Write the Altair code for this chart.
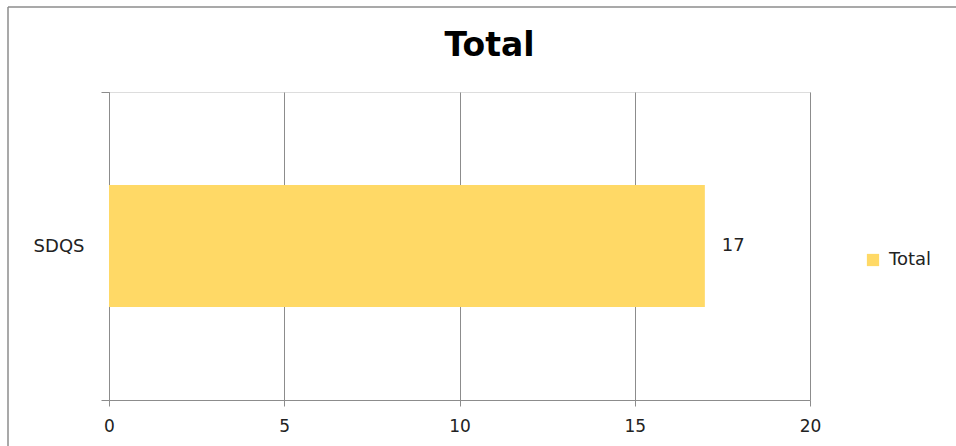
import altair as alt
import pandas as pd

categories = ["SDQS"]
values = [17]
series = ["Total"]

df = pd.DataFrame({"cat": categories, "value": values, "series": series[0]})

W, H = 701, 308
PL, PT = 109, 92
FONT = "DejaVu Sans"

y_enc = alt.Y(
    "cat:N",
    scale=alt.Scale(paddingInner=0, paddingOuter=0),
    axis=alt.Axis(
        title=None, tickBand="extent", tickSize=8, labelPadding=17,
        labelFontSize=18, labelColor="#222222", labelFont=FONT,
        domainColor="#8c8c8c", tickColor="#8c8c8c", grid=False,
    ),
)
x_enc = alt.X(
    "value:Q",
    scale=alt.Scale(domain=[0, 20], nice=False),
    axis=alt.Axis(
        title=None, values=[0, 5, 10, 15, 20], tickSize=6, labelPadding=12,
        labelFontSize=17, labelColor="#222222", labelFont=FONT,
        domainColor="#8c8c8c", tickColor="#8c8c8c",
        grid=True, gridColor="#8c8c8c", labelFlush=False,
    ),
)

bars = alt.Chart(df).mark_bar(size=122).encode(
    x=x_enc,
    y=y_enc,
    color=alt.Color(
        "series:N",
        scale=alt.Scale(domain=series, range=["#FFD966"]),
        legend=alt.Legend(
            title=None, orient="none", legendX=755, legendY=159,
            symbolType="square", symbolSize=150, symbolStrokeWidth=0,
            labelFontSize=18, labelFont=FONT, labelColor="#222222",
            labelOffset=7,
        ),
    ),
)

labels = alt.Chart(df).mark_text(
    align="left", baseline="middle", dx=17, fontSize=18, font=FONT, color="#222222"
).encode(x="value:Q", y="cat:N", text="value:Q")

border_left = alt.Chart(df).mark_rule(color="#8c8c8c", strokeWidth=1.5).encode(
    x=alt.value(8 - PL), y=alt.value(7 - PT), y2=alt.value(446 - PT)
)
border_top = alt.Chart(df).mark_rule(color="#8c8c8c", strokeWidth=1.5).encode(
    x=alt.value(8 - PL), x2=alt.value(956 - PL), y=alt.value(7 - PT)
)

chart = alt.layer(bars, labels, border_left, border_top).properties(
    width=W,
    height=H,
    autosize=alt.AutoSizeParams(type="none"),
    padding={"left": PL, "top": PT, "right": 956 - PL - W, "bottom": 446 - PT - H},
    title=alt.TitleParams(
        "Total", fontSize=33, fontWeight="bold", font=FONT, color="#000000",
        anchor="middle", frame="group", baseline="alphabetic", offset=0, dx=30, dy=83,
    ),
).configure_view(strokeWidth=0).configure(background="white")

chart.save("out.html", embed_options={"renderer": "svg", "actions": False})
